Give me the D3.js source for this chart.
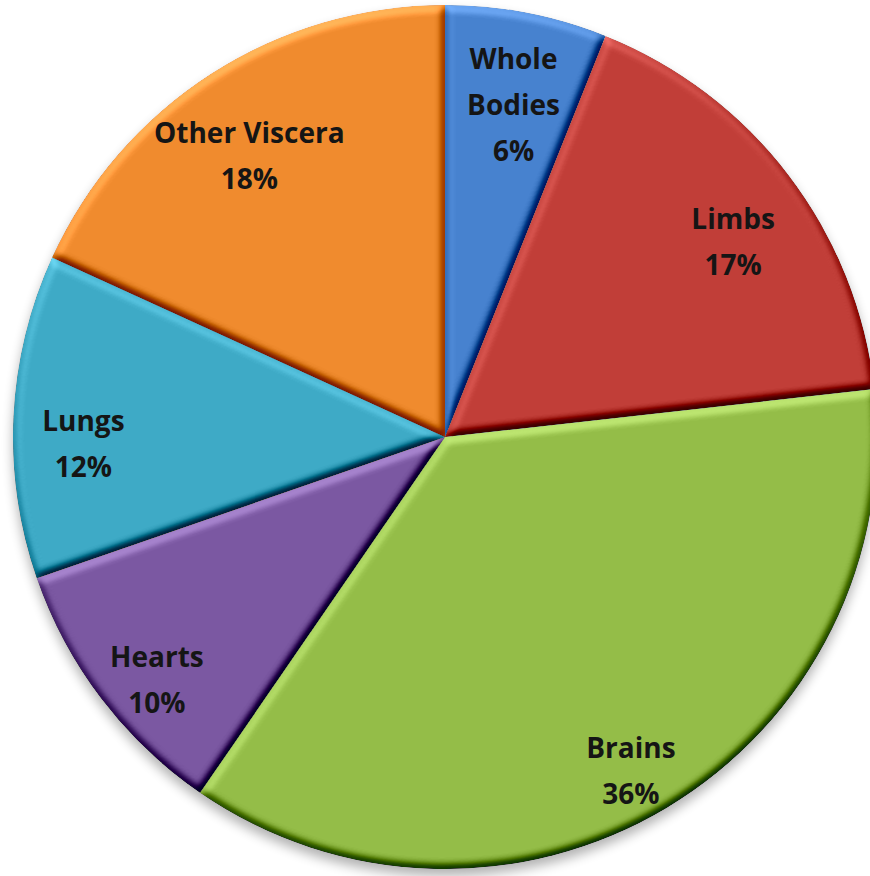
<!DOCTYPE html>
<html>
<head>
<meta charset="utf-8">
<script src="https://cdn.jsdelivr.net/npm/d3@7"></script>
<style>
  html, body { margin: 0; padding: 0; background: #fff; overflow: hidden; }
  #chart { width: 870px; height: 876px; }
</style>
</head>
<body>
<div id="chart"></div>
<script>
// slices, clockwise from 12 o'clock
const categories = ["Whole Bodies", "Limbs", "Brains", "Hearts", "Lungs", "Other Viscera"]
const labelLines = [["Whole", "Bodies"], ["Limbs"], ["Brains"], ["Hearts"], ["Lungs"], ["Other Viscera"]]
const shares = [6, 17, 36, 10, 12, 18]
const colors = ["#4782cf", "#c13e38", "#94bd48", "#7b58a2", "#3eaac6", "#f08b2e"]

const width = 870
const height = 876
const cx = 445, cy = 437
const radius = 432

const svg = d3.select("#chart").append("svg")
    .attr("width", width)
    .attr("height", height)
    .attr("viewBox", `0 0 ${width} ${height}`)

const defs = svg.append("defs")

// soft shadow under the whole pie
const shadow = defs.append("filter").attr("id", "shadow")
    .attr("x", "-10%").attr("y", "-10%").attr("width", "120%").attr("height", "125%")
shadow.append("feGaussianBlur").attr("stdDeviation", 6)

// bevel look of each slice, light from the top
const bevel = defs.append("filter").attr("id", "bevel")
    .attr("x", "-5%").attr("y", "-5%").attr("width", "110%").attr("height", "110%")
    .attr("color-interpolation-filters", "sRGB")
bevel.append("feGaussianBlur").attr("in", "SourceAlpha").attr("stdDeviation", 4).attr("result", "blur")
const light = bevel.append("feDiffuseLighting").attr("in", "blur")
    .attr("surfaceScale", 5).attr("diffuseConstant", 1).attr("lighting-color", "#fff").attr("result", "lit")
light.append("feDistantLight").attr("azimuth", 250).attr("elevation", 55)
bevel.append("feComposite").attr("in", "SourceGraphic").attr("in2", "lit")
    .attr("operator", "arithmetic").attr("k1", 0).attr("k2", 1).attr("k3", 0.9).attr("k4", -0.9 * Math.sin(55 * Math.PI / 180))
    .attr("result", "shaded")
bevel.append("feComposite").attr("in", "shaded").attr("in2", "SourceAlpha").attr("operator", "in")

const pie = d3.pie().sort(null).value(d => d)
const arcs = pie(shares)

const arc = d3.arc().innerRadius(0).outerRadius(radius)
const labelArc = d3.arc().innerRadius(362).outerRadius(362)
const labelDrop = 24

const g = svg.append("g").attr("transform", `translate(${cx},${cy})`)

g.append("circle")
    .attr("cx", 0).attr("cy", 7).attr("r", radius)
    .attr("fill", "#000").attr("opacity", 0.3)
    .attr("filter", "url(#shadow)")

g.selectAll(".slice")
    .data(arcs)
    .join("path")
    .attr("class", "slice")
    .attr("d", arc)
    .attr("fill", (d, i) => colors[i])
    .attr("filter", "url(#bevel)")

const lineH = 46
const labels = g.selectAll(".label")
    .data(arcs)
    .join("text")
    .attr("class", "label")
    .attr("transform", d => {
        const [x, y] = labelArc.centroid(d)
        return `translate(${x},${y + labelDrop})`
    })
    .attr("text-anchor", "middle")
    .style("font-family", "'Open Sans', Lato, sans-serif")
    .style("font-weight", 700)
    .style("font-size", "28px")
    .attr("fill", "#151515")

labels.each(function(d, i) {
    const lines = labelLines[i].concat([Math.round(shares[i]) + "%"])
    const t = d3.select(this)
    const y0 = -(lines.length - 1) * lineH / 2
    lines.forEach((s, j) => {
        t.append("tspan")
            .attr("x", 0)
            .attr("y", y0 + j * lineH)
            .attr("dy", "0.35em")
            .text(s)
    })
})
</script>
</body>
</html>
